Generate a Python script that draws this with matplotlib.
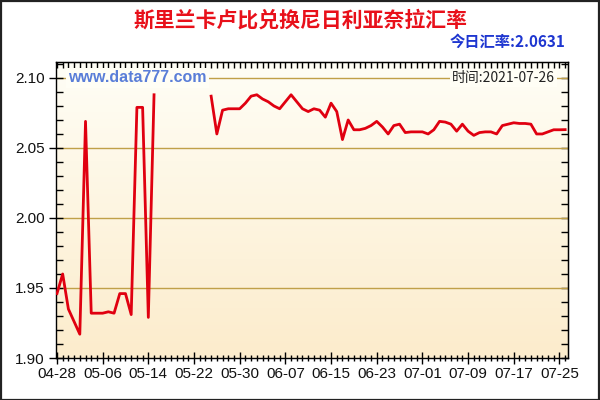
import numpy as np
import pandas as pd
import matplotlib
matplotlib.use("Agg")
import matplotlib.pyplot as plt
import matplotlib.dates as mdates
from matplotlib.patches import Rectangle
from matplotlib.ticker import MultipleLocator, NullFormatter

plt.rcParams['font.family'] = ['Liberation Sans', 'Noto Sans CJK SC', 'DejaVu Sans']

# ---------------- data ----------------
title = "斯里兰卡卢比兑换尼日利亚奈拉汇率"
today_label = "今日汇率:2.0631"
time_label = "时间:2021-07-26"
watermark = "www.data777.com"

dates = pd.date_range("2021-04-28", "2021-07-26", freq="D")
rates = [
    1.946, 1.960, 1.935, 1.926, 1.917, 2.069, 1.932, 1.932, 1.932, 1.933,   # 04-28 .. 05-07
    1.932, 1.946, 1.946, 1.931, 2.079, 2.079, 1.929, 2.088,                 # 05-08 .. 05-15
    None, None, None, None, None, None, None, None, None,                   # 05-16 .. 05-24
    2.087, 2.060, 2.077, 2.078, 2.078, 2.078, 2.082, 2.087, 2.088,          # 05-25 .. 06-02
    2.085, 2.083, 2.080, 2.078, 2.083, 2.088, 2.083, 2.078, 2.076, 2.078,   # 06-03 .. 06-12
    2.077, 2.072, 2.082, 2.076, 2.056, 2.070, 2.063, 2.063, 2.064, 2.066,   # 06-13 .. 06-22
    2.069, 2.065, 2.060, 2.066, 2.067, 2.061, 2.0615, 2.0615, 2.0615, 2.060,  # 06-23 .. 07-02
    2.063, 2.069, 2.0685, 2.067, 2.062, 2.067, 2.062, 2.059, 2.061, 2.0615,   # 07-03 .. 07-12
    2.0615, 2.060, 2.066, 2.067, 2.068, 2.0675, 2.0675, 2.067, 2.060, 2.060,  # 07-13 .. 07-22
    2.0615, 2.063, 2.063, 2.0631,                                           # 07-23 .. 07-26
]
values = np.array([np.nan if v is None else v for v in rates], dtype=float)

ymin, ymax = 1.90, 2.1114
major_y = 0.05
tick_start = pd.Timestamp("2021-04-28")

# ---------------- figure ----------------
fig = plt.figure(figsize=(6, 4), dpi=100)
fig.patch.set_facecolor("white")
fig.patches.append(Rectangle((0.001, 0.001), 0.997, 0.996, transform=fig.transFigure,
                             fill=False, edgecolor="#222222", linewidth=1.6, zorder=10))

ax = fig.add_axes([56/600, 1-358/400, 512/600, 296/400])

x0 = mdates.date2num(tick_start) - 0.17
x1 = mdates.date2num(dates[-1]) + 0.5
ax.set_xlim(x0, x1)
ax.set_ylim(ymin, ymax)

# gradient background
grad = np.linspace(0, 1, 256).reshape(-1, 1)
top_c = np.array([255, 254, 246]) / 255
bot_c = np.array([252, 236, 204]) / 255
img = top_c + (bot_c - top_c) * grad[:, :, None].repeat(1, axis=1)
ax.imshow(img, extent=[x0, x1, ymin, ymax], aspect="auto", origin="upper", zorder=0)

# grid lines
for yv in np.arange(1.95, 2.101, major_y):
    ax.axhline(yv, color="#C0A048", linewidth=1, zorder=1)

ax.plot(mdates.date2num(dates), values, color="#E00010", linewidth=2, zorder=3)

# ticks
major_dates = pd.date_range(tick_start, dates[-1], freq="8D")
ax.set_xticks(mdates.date2num(major_dates))
ax.set_xticklabels([d.strftime("%m-%d") for d in major_dates])
ax.xaxis.set_minor_locator(MultipleLocator(1))
ax.yaxis.set_major_locator(MultipleLocator(major_y))
ax.yaxis.set_minor_locator(MultipleLocator(0.01))
ax.yaxis.set_major_formatter(matplotlib.ticker.FormatStrFormatter("%.2f"))

ax.tick_params(axis="both", which="major", labelsize=11, colors="black", labelcolor="#111111")
ax.tick_params(axis="x", which="major", direction="inout", length=9, width=1, pad=2)
ax.tick_params(axis="x", which="minor", direction="inout", length=5, width=1)
ax.tick_params(axis="y", which="major", direction="inout", length=10, width=1, pad=3)
ax.tick_params(axis="y", which="minor", direction="in", length=5, width=1)

# top and right inward ticks
top = ax.secondary_xaxis("top")
top.xaxis.set_major_locator(MultipleLocator(1))
top.xaxis.set_major_formatter(NullFormatter())
top.tick_params(direction="in", length=4, width=1)
right = ax.secondary_yaxis("right")
right.yaxis.set_major_locator(MultipleLocator(0.01))
right.yaxis.set_major_formatter(NullFormatter())
right.tick_params(direction="in", length=5, width=1)

for s in ax.spines.values():
    s.set_color("black")
    s.set_linewidth(1)

# texts
fig.text(0.5, 1-20/400, title, ha="center", va="center", color="#E8101A",
         fontsize=15, fontweight="bold", family=["Noto Sans CJK SC", "DejaVu Sans"])
fig.text(565/600, 1-42/400, today_label, ha="right", va="center", color="#1E36D0",
         fontsize=11, fontweight="bold", family=["Noto Sans CJK SC", "DejaVu Sans"])
ax.text(0.024, 2.10, watermark, ha="left", va="center", color="#5A7ED8", fontsize=11.5,
        fontweight="bold", transform=ax.get_yaxis_transform(), zorder=4,
        bbox=dict(boxstyle="square,pad=0.15", facecolor="#FFFEF5", edgecolor="none"))
ax.text(0.975, 2.10, time_label, ha="right", va="center", color="#222222", fontsize=10,
        transform=ax.get_yaxis_transform(), zorder=4, family=["Noto Sans CJK SC", "DejaVu Sans"],
        bbox=dict(boxstyle="square,pad=0.15", facecolor="#FFFEF5", edgecolor="none"))

fig.savefig("out.png", dpi=100)
